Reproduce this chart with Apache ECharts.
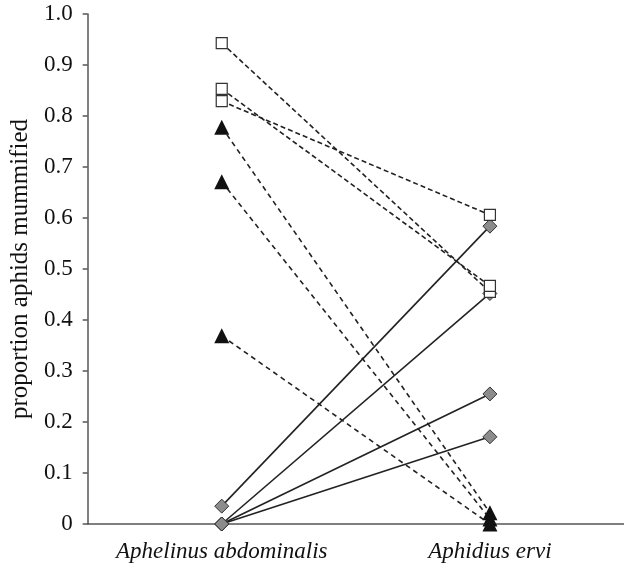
<!DOCTYPE html>
<html>
<head>
<meta charset="utf-8">
<script src="https://cdn.jsdelivr.net/npm/echarts@6/dist/echarts.min.js"></script>
<style>html,body{margin:0;padding:0;background:#fff}#c{width:624px;height:571px}</style>
</head>
<body>
<div id="c"></div>
<script>
var categories = ['Aphelinus abdominalis', 'Aphidius ervi'];
var yTicks = [0, 0.1, 0.2, 0.3, 0.4, 0.5, 0.6, 0.7, 0.8, 0.9, 1.0];
// open squares (dashed)
var squareA = [0.943, 0.853, 0.829];
var squareB = [0.455, 0.467, 0.606];
// filled triangles (dashed)
var triangleA = [0.778, 0.671, 0.369];
var triangleB = [0.022, 0.010, 0.000];
// grey diamonds (solid)
var diamondA = [0.035, 0.000, 0.000, 0.000];
var diamondB = [0.584, 0.452, 0.255, 0.171];

var series = [];
function addPairs(aVals, bVals, style) {
  for (var i = 0; i < aVals.length; i++) {
    series.push({
      type: 'line',
      data: [aVals[i], bVals[i]],
      symbol: style.symbol,
      symbolSize: style.size,
      showAllSymbol: true,
      z: style.z,
      itemStyle: { color: style.fill, borderColor: style.border, borderWidth: style.bw, opacity: 1 },
      lineStyle: { color: '#222', width: 1.6, type: style.dash },
      emphasis: { disabled: true },
      animation: false
    });
  }
}
addPairs(diamondA, diamondB, { symbol: 'diamond', size: 14, fill: '#8c8c8c', border: '#333', bw: 1, dash: 'solid', z: 3 });
addPairs(triangleA, triangleB, { symbol: 'triangle', size: 15, fill: '#111', border: '#111', bw: 0, dash: [5, 4], z: 4 });
addPairs(squareA, squareB, { symbol: 'rect', size: 11, fill: '#fff', border: '#333', bw: 1.2, dash: [5, 3], z: 5 });

var chart = echarts.init(document.getElementById('c'), null, { renderer: 'canvas' });
chart.setOption({
  animation: false,
  grid: { left: 82, right: 0, top: 14, bottom: 47, containLabel: false },
  xAxis: {
    type: 'category',
    data: categories,
    boundaryGap: true,
    axisLine: { lineStyle: { color: '#555', width: 1.5 } },
    axisTick: { show: false },
    axisLabel: { interval: 0, hideOverlap: false, color: '#111', fontFamily: 'Liberation Serif', fontStyle: 'italic', fontSize: 23, margin: 16 },
    splitLine: { show: false }
  },
  yAxis: {
    type: 'value',
    min: yTicks[0],
    max: yTicks[yTicks.length - 1],
    interval: 0.1,
    name: 'proportion aphids mummified',
    nameLocation: 'middle',
    nameGap: 53,
    nameTextStyle: { color: '#111', fontFamily: 'Liberation Serif', fontSize: 25 },
    axisLine: { show: true, lineStyle: { color: '#555', width: 1.5 } },
    axisTick: { show: true, length: 5, lineStyle: { color: '#555', width: 1.5 } },
    axisLabel: {
      color: '#111', fontFamily: 'Liberation Serif', fontSize: 23, margin: 15,
      formatter: function (v) { return v === 0 ? '0' : v.toFixed(1); }
    },
    splitLine: { show: false }
  },
  series: series
});
</script>
</body>
</html>
